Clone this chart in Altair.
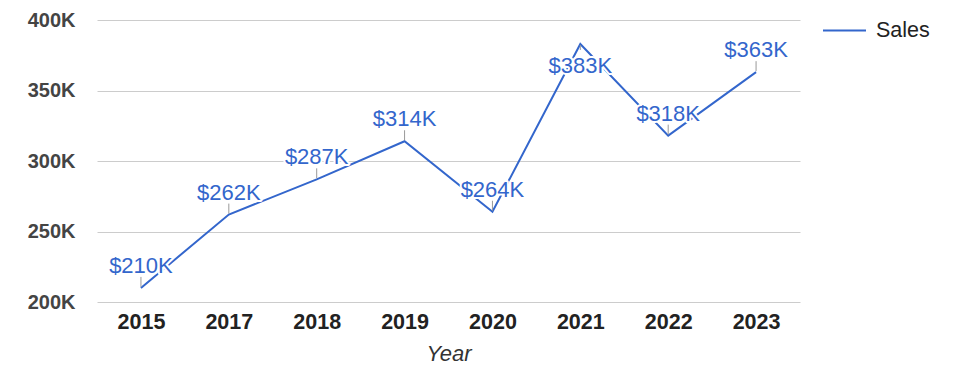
import json
import altair as alt
import pandas as pd

# ---- data ----
years = ["2015", "2017", "2018", "2019", "2020", "2021", "2022", "2023"]
sales = [210000, 262000, 287000, 314000, 264000, 383000, 318000, 363000]
series_name = "Sales"
labels_below = ["2021"]  # annotation drawn under the point (no room above)

df = pd.DataFrame({
    "Year": years,
    "Sales": sales,
    "Series": [series_name] * len(years),
})
df["Label"] = ["$" + str(v // 1000) + "K" for v in sales]

BLUE = "#3366cc"
FONT = "Liberation Sans"

below_test = "indexof(" + json.dumps(labels_below) + ", datum.Year) >= 0"
above_test = "!(" + below_test + ")"

x_enc = alt.X(
    "Year:N",
    sort=None,
    scale=alt.Scale(type="point", padding=0.5),
    axis=alt.Axis(
        title="Year", labelAngle=0, labelFont=FONT, labelFontSize=21.5,
        labelFontWeight="bold", labelColor="#222222", ticks=False, domain=False,
        labelPadding=9, grid=False,
        titleFont=FONT, titleFontSize=22, titleFontStyle="italic",
        titleFontWeight="normal", titleColor="#333333", titlePadding=11,
    ),
)
y_enc = alt.Y(
    "Sales:Q",
    scale=alt.Scale(domain=[200000, 400000], nice=False, zero=False),
    axis=alt.Axis(
        title=None,
        values=list(range(200000, 400001, 25000)),
        labelExpr="datum.value % 50000 === 0 ? (datum.value / 1000) + 'K' : ''",
        labelFont=FONT, labelFontSize=20, labelFontWeight="bold",
        labelColor="#444444", labelPadding=22, ticks=False, domain=False,
        labelOverlap=False,
        gridColor=alt.condition("datum.value % 50000 === 0",
                                alt.value("#cccccc"), alt.value("#ebebeb")),
        gridWidth=1,
    ),
)

base = alt.Chart(df)

line = base.mark_line(strokeWidth=2).encode(
    x=x_enc,
    y=y_enc,
    color=alt.Color(
        "Series:N",
        scale=alt.Scale(range=[BLUE]),
        legend=alt.Legend(
            title=None, orient="none", legendX=725, legendY=-12,
            symbolType="stroke", symbolSize=1849, symbolStrokeWidth=2,
            labelFont=FONT, labelFontSize=21.5, labelColor="#222222",
            labelOffset=9, padding=0,
        ),
    ),
)

tick_above = base.transform_filter(above_test).mark_rule(
    color="#999999", strokeWidth=1, yOffset=-1, y2Offset=-11
).encode(x="Year:N", y="Sales:Q", y2="Sales:Q")

tick_below = base.transform_filter(below_test).mark_rule(
    color="#999999", strokeWidth=1, yOffset=1, y2Offset=6
).encode(x="Year:N", y="Sales:Q", y2="Sales:Q")

def labels(test, baseline, dy):
    sub = base.transform_filter(test)
    halo = sub.mark_text(
        font=FONT, fontSize=22, baseline=baseline, dy=dy,
        color="white", stroke="white", strokeWidth=4, strokeJoin="round",
    ).encode(x="Year:N", y="Sales:Q", text="Label:N")
    txt = sub.mark_text(
        font=FONT, fontSize=22, baseline=baseline, dy=dy, color=BLUE,
    ).encode(x="Year:N", y="Sales:Q", text="Label:N")
    return halo, txt

ha, ta = labels(above_test, "alphabetic", -15)
hb, tb = labels(below_test, "top", 12)

chart = alt.layer(line, tick_above, tick_below, ha, hb, ta, tb).properties(
    width=703,
    height=282,
    background="white",
    autosize=alt.AutoSizeParams(type="none"),
    padding={"left": 97, "top": 20, "right": 175, "bottom": 76},
).configure_view(strokeWidth=0, stroke="transparent")

chart.save("out.html", embed_options={"renderer": "svg", "actions": False})
